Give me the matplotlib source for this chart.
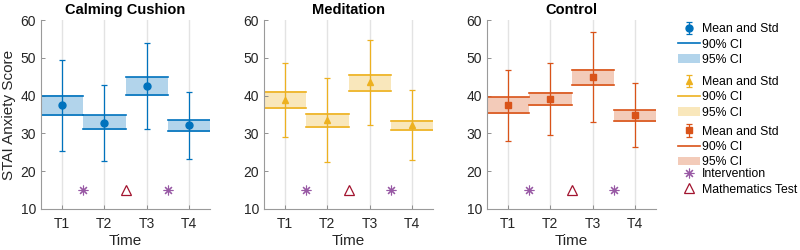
import matplotlib
matplotlib.use("Agg")
import matplotlib.pyplot as plt
from matplotlib.lines import Line2D
from matplotlib.patches import Patch

plt.rcParams['font.family'] = ['Liberation Sans', 'DejaVu Sans']

times = ["T1", "T2", "T3", "T4"]
groups = ["Calming Cushion", "Meditation", "Control"]
colors = ["#0072BD", "#EDB120", "#D95319"]
markers = ["o", "^", "s"]

cushion_mean = [37.4, 32.8, 42.5, 32.1]
cushion_std = [12.1, 10.0, 11.4, 8.9]
cushion_ci90_lo = [35.0, 31.1, 40.1, 30.7]
cushion_ci90_hi = [39.9, 34.8, 44.8, 33.5]
cushion_ci95_lo = [34.6, 30.8, 39.8, 30.4]
cushion_ci95_hi = [40.1, 35.0, 45.0, 33.6]

medit_mean = [38.8, 33.5, 43.5, 32.2]
medit_std = [9.8, 11.1, 11.3, 9.2]
medit_ci90_lo = [36.7, 31.6, 41.3, 30.9]
medit_ci90_hi = [40.9, 35.2, 45.4, 33.3]
medit_ci95_lo = [36.4, 31.3, 41.0, 30.6]
medit_ci95_hi = [41.1, 35.4, 45.6, 33.5]

control_mean = [37.4, 39.1, 44.9, 34.8]
control_std = [9.4, 9.4, 11.8, 8.5]
control_ci90_lo = [35.5, 37.5, 42.9, 33.3]
control_ci90_hi = [39.5, 40.7, 46.9, 36.1]
control_ci95_lo = [35.2, 37.2, 42.6, 33.0]
control_ci95_hi = [39.7, 40.9, 47.1, 36.3]

intervention_x = [1.5, 3.5]
intervention_y = [15, 15]
math_x = [2.5]
math_y = [15]

data = [
    (cushion_mean, cushion_std, cushion_ci90_lo, cushion_ci90_hi, cushion_ci95_lo, cushion_ci95_hi),
    (medit_mean, medit_std, medit_ci90_lo, medit_ci90_hi, medit_ci95_lo, medit_ci95_hi),
    (control_mean, control_std, control_ci90_lo, control_ci90_hi, control_ci95_lo, control_ci95_hi),
]

fig = plt.figure(figsize=(8, 2.5), dpi=100)
lefts = [0.05125, 0.33, 0.60875]
x = [1, 2, 3, 4]
group_handles = []
purple = "#7E2F8E"
red = "#A2142F"
for i, ax_left in enumerate(lefts):
    ax = fig.add_axes([ax_left, 0.164, 0.21125, 0.756])
    mean, std, c90l, c90h, c95l, c95h = data[i]
    col = colors[i]
    for xi in x:
        ax.axvline(xi, color="#e3e3e3", lw=1.0, zorder=0)
    for j, xi in enumerate(x):
        ax.fill_between([xi - 0.5, xi + 0.5], [c95l[j]] * 2, [c95h[j]] * 2,
                        color=col, alpha=0.3, lw=0, zorder=1)
        ax.plot([xi - 0.5, xi + 0.5], [c90l[j]] * 2, color=col, lw=1.2, zorder=2)
        ax.plot([xi - 0.5, xi + 0.5], [c90h[j]] * 2, color=col, lw=1.2, zorder=2)
    eb = ax.errorbar(x, mean, yerr=std, fmt=markers[i], color=col, ms=5,
                     elinewidth=0.9, capsize=2.2, capthick=0.9, zorder=3)
    ax.plot(intervention_x, intervention_y, linestyle="none", marker=(8, 2, 0),
            color=purple, ms=7, mew=0.8, alpha=0.8)
    ax.plot(math_x, math_y, linestyle="none", marker="^", mfc="none",
            mec=red, ms=7, mew=0.9)
    ax.set_xlim(0.5, 4.5)
    ax.set_ylim(10, 60)
    ax.set_xticks(x)
    ax.set_xticklabels(times)
    ax.set_yticks([10, 20, 30, 40, 50, 60])
    ax.tick_params(direction="in", length=3, width=0.6, color="#808080",
                   labelsize=10, labelcolor="#262626")
    ax.tick_params(axis="x", pad=6)
    for s in ["top", "right"]:
        ax.spines[s].set_visible(False)
    for s in ["left", "bottom"]:
        ax.spines[s].set_color("#9a9a9a")
        ax.spines[s].set_linewidth(0.8)
    ax.set_title(groups[i], fontsize=10.5, fontweight="bold", pad=4)
    ax.set_xlabel("Time", fontsize=11, color="#262626", labelpad=2)
    if i == 0:
        ax.set_ylabel("STAI Anxiety Score", fontsize=11, color="#262626", labelpad=3)
    group_handles.append(([eb, Line2D([], [], color=col, lw=1.2),
                           Patch(facecolor=col, alpha=0.3, lw=0)],
                          ["Mean and Std", "90% CI", "95% CI"]))

group_handles.append(([Line2D([], [], linestyle="none", marker=(8, 2, 0), color=purple,
                              ms=7, mew=0.8, alpha=0.8),
                       Line2D([], [], linestyle="none", marker="^", mfc="none", mec=red,
                              ms=7, mew=0.9)],
                      ["Intervention", "Mathematics Test"]))

legend_centers = [0.822, 0.61, 0.412, 0.272]
for (h, l), yc in zip(group_handles, legend_centers):
    leg = fig.legend(h, l, loc="center left", bbox_to_anchor=(0.8475, yc),
                     frameon=False, fontsize=8.8, handlelength=1.8, handletextpad=0.15,
                     labelspacing=0.27, borderpad=0, borderaxespad=0)

fig.savefig("out.png", dpi=100)
